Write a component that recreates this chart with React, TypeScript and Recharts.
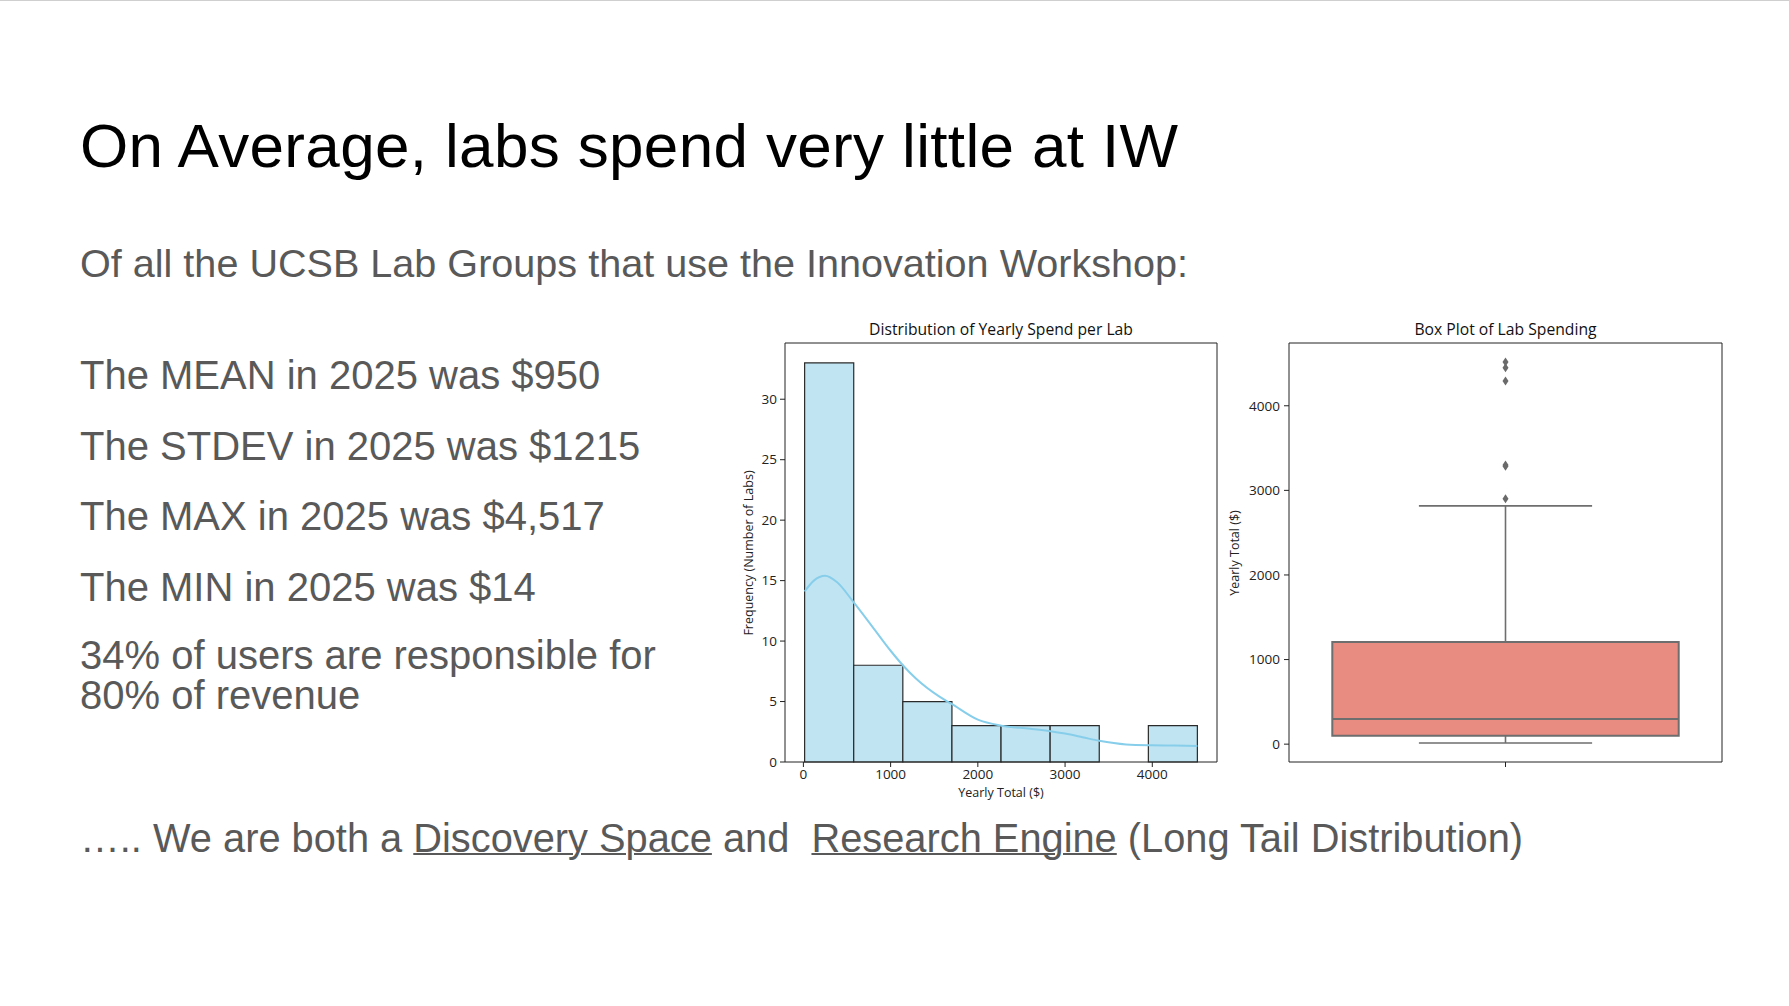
import React from "react";
import {
    ComposedChart,
    XAxis,
    YAxis,
    Line,
    Scatter,
    ReferenceArea,
    ReferenceLine,
} from "recharts";

// slide text
const slideTitle = "On Average, labs spend very little at IW";
const slideSubtitle = "Of all the UCSB Lab Groups that use the Innovation Workshop:";
const statLines = [
    "The MEAN in 2025 was $950",
    "The STDEV in 2025 was $1215",
    "The MAX in 2025 was $4,517",
    "The MIN in 2025 was $14",
];
const paretoLines = ["34% of users are responsible for", "80% of revenue"];

// histogram: bin edges + counts (8 bins, min..max)
const binEdges = [14, 577, 1140, 1703, 2266, 2829, 3392, 3955, 4517];
const binCounts = [33, 8, 5, 3, 3, 3, 0, 3];

// kde curve (scaled to counts)
const kdeX = [14, 120, 250, 380, 577, 790, 1000, 1140, 1290, 1560, 1700, 2000, 2270, 2600, 2830, 3000, 3200, 3392, 3700, 4000, 4250, 4517];
const kdeY = [14.1, 15.0, 15.4, 14.9, 13.2, 11.2, 9.2, 8.0, 6.9, 5.4, 4.8, 3.5, 3.0, 2.75, 2.55, 2.35, 2.05, 1.75, 1.45, 1.38, 1.36, 1.32];

const spendTicks = [0, 1000, 2000, 3000, 4000];
const freqTicks = [0, 5, 10, 15, 20, 25, 30];

// box plot stats
const boxQuartiles = [99, 296, 1207]; // q1, median, q3
const boxWhiskers = [14, 2817];
const boxOutliers = [2900, 3285, 3300, 4292, 4450, 4517];

const SPEND_DOMAIN: [number, number] = [-211, 4742];
const FREQ_DOMAIN: [number, number] = [0, 34.65];
const BOX_X_DOMAIN: [number, number] = [-0.5, 0.5];

const SLIDE_FONT = "'Liberation Sans', Arial, sans-serif";
const CHART_FONT = "'Open Sans', 'Noto Sans', sans-serif";
const TEXT_GREY = "#595959";
const AXIS_INK = "#222";

const tickStyle = { fill: AXIS_INK, fontSize: 13.5, fontFamily: CHART_FONT };

const Diamond = (props: any) => {
    const { cx, cy } = props;
    if (cx == null || cy == null) return null;
    return (
        <polygon
            points={`${cx},${cy - 4.5} ${cx + 3},${cy} ${cx},${cy + 4.5} ${cx - 3},${cy}`}
            fill="#6a6a6a"
        />
    );
};

const chartTitle = (text: string, left: number, width: number) => (
    <div
        style={{
            position: "absolute",
            left,
            top: 320,
            width,
            textAlign: "center",
            fontFamily: CHART_FONT,
            fontSize: 15.7,
            lineHeight: "16px",
            color: "#111",
        }}
    >
        {text}
    </div>
);

const axisLabel = (text: string, cx: number, cy: number, rotate: boolean) => (
    <div
        style={{
            position: "absolute",
            left: cx - 150,
            top: cy - 7,
            width: 300,
            textAlign: "center",
            fontFamily: CHART_FONT,
            fontSize: 12.5,
            lineHeight: "14px",
            color: AXIS_INK,
            transform: rotate ? "rotate(-90deg)" : undefined,
        }}
    >
        {text}
    </div>
);

export default function App() {
    const kdeData = kdeX.map((x, i) => ({ x, y: kdeY[i] }));
    const bins = binCounts.map((count, i) => ({ x0: binEdges[i], x1: binEdges[i + 1], count }));
    const outlierData = boxOutliers.map((y) => ({ x: 0, y }));
    const [q1, med, q3] = boxQuartiles;
    const [wLow, wHigh] = boxWhiskers;

    return (
        <div
            style={{
                position: "absolute",
                left: 0,
                top: 0,
                width: 1789,
                height: 1006,
                background: "#fff",
                overflow: "hidden",
                borderTop: "1px solid #cfcfcf",
                boxSizing: "border-box",
            }}
        >
            {/* slide text */}
            <div style={{ position: "absolute", left: 80, top: 114, fontFamily: SLIDE_FONT, fontSize: 62, lineHeight: "62px", letterSpacing: 0.35, color: "#000", whiteSpace: "nowrap" }}>
                {slideTitle}
            </div>
            <div style={{ position: "absolute", left: 80, top: 242.4, fontFamily: SLIDE_FONT, fontSize: 39.6, lineHeight: "40px", color: TEXT_GREY, whiteSpace: "nowrap" }}>
                {slideSubtitle}
            </div>
            {statLines.map((line, i) => (
                <div
                    key={line}
                    style={{ position: "absolute", left: 80, top: 354 + i * 70.5, fontFamily: SLIDE_FONT, fontSize: 40, lineHeight: "40px", color: TEXT_GREY, whiteSpace: "nowrap" }}
                >
                    {line}
                </div>
            ))}
            <div style={{ position: "absolute", left: 80, top: 634, fontFamily: SLIDE_FONT, fontSize: 40, lineHeight: "40px", color: TEXT_GREY, whiteSpace: "nowrap" }}>
                {paretoLines.map((l) => (
                    <div key={l}>{l}</div>
                ))}
            </div>
            <div style={{ position: "absolute", left: 80, top: 817, fontFamily: SLIDE_FONT, fontSize: 39.8, lineHeight: "40px", color: TEXT_GREY, whiteSpace: "pre" }}>
                {"….. We are both a "}
                <span style={{ textDecoration: "underline", textDecorationThickness: 2 }}>Discovery Space</span>
                {" and  "}
                <span style={{ textDecoration: "underline", textDecorationThickness: 2 }}>Research Engine</span>
                {" (Long Tail Distribution)"}
            </div>

            {/* Histogram with KDE */}
            {chartTitle("Distribution of Yearly Spend per Lab", 785, 432)}
            <div style={{ position: "absolute", left: 730, top: 300 }}>
                <ComposedChart width={520} height={510} data={kdeData} margin={{ top: 42, right: 33, bottom: 19, left: 15 }}>
                    <XAxis
                        type="number"
                        dataKey="x"
                        domain={SPEND_DOMAIN}
                        ticks={spendTicks}
                        interval={0}
                        allowDataOverflow
                        axisLine={false}
                        tickSize={5}
                        tickMargin={2}
                        tickLine={{ stroke: AXIS_INK }}
                        tick={tickStyle}
                        height={30}
                    />
                    <YAxis
                        type="number"
                        domain={FREQ_DOMAIN}
                        ticks={freqTicks}
                        interval={0}
                        allowDataOverflow
                        axisLine={false}
                        tickSize={5}
                        tickMargin={3}
                        tickLine={{ stroke: AXIS_INK }}
                        tick={tickStyle}
                        width={40}
                    />
                    {bins
                        .filter((b) => b.count > 0)
                        .map((b, i) => (
                            <ReferenceArea
                                key={`bin-${i}`}
                                x1={b.x0}
                                x2={b.x1}
                                y1={0}
                                y2={b.count}
                                fill="#c0e4f2"
                                fillOpacity={1}
                                stroke="#2a2a2a"
                                strokeWidth={1.2}
                                ifOverflow="visible"
                            />
                        ))}
                    <Line
                        type="monotone"
                        dataKey="y"
                        stroke="#87ceeb"
                        strokeWidth={2}
                        dot={false}
                        activeDot={false}
                        isAnimationActive={false}
                    />
                    <ReferenceArea
                        x1={SPEND_DOMAIN[0]}
                        x2={SPEND_DOMAIN[1]}
                        y1={FREQ_DOMAIN[0]}
                        y2={FREQ_DOMAIN[1]}
                        fill="none"
                        stroke={AXIS_INK}
                        strokeWidth={1}
                        ifOverflow="visible"
                    />
                </ComposedChart>
            </div>
            {axisLabel("Frequency (Number of Labs)", 749, 551.5, true)}
            {axisLabel("Yearly Total ($)", 1001, 792, false)}

            {/* Box plot */}
            {chartTitle("Box Plot of Lab Spending", 1289, 433)}
            <div style={{ position: "absolute", left: 1220, top: 300 }}>
                <ComposedChart width={540} height={510} margin={{ top: 42, right: 38, bottom: 19, left: 19 }}>
                    <XAxis
                        type="number"
                        dataKey="x"
                        domain={BOX_X_DOMAIN}
                        ticks={[0]}
                        interval={0}
                        allowDataOverflow
                        axisLine={false}
                        tickSize={5}
                        tickLine={{ stroke: AXIS_INK }}
                        tickFormatter={() => ""}
                        height={30}
                    />
                    <YAxis
                        type="number"
                        dataKey="y"
                        domain={SPEND_DOMAIN}
                        ticks={spendTicks}
                        interval={0}
                        allowDataOverflow
                        axisLine={false}
                        tickSize={5}
                        tickMargin={4}
                        tickLine={{ stroke: AXIS_INK }}
                        tick={tickStyle}
                        width={50}
                    />
                    <ReferenceLine segment={[{ x: 0, y: wLow }, { x: 0, y: q1 }]} stroke="#6e6e6e" strokeWidth={1.6} />
                    <ReferenceLine segment={[{ x: 0, y: q3 }, { x: 0, y: wHigh }]} stroke="#6e6e6e" strokeWidth={1.6} />
                    <ReferenceLine segment={[{ x: -0.2, y: wLow }, { x: 0.2, y: wLow }]} stroke="#6e6e6e" strokeWidth={1.6} />
                    <ReferenceLine segment={[{ x: -0.2, y: wHigh }, { x: 0.2, y: wHigh }]} stroke="#6e6e6e" strokeWidth={1.6} />
                    <ReferenceArea
                        x1={-0.4}
                        x2={0.4}
                        y1={q1}
                        y2={q3}
                        fill="#e88b81"
                        fillOpacity={1}
                        stroke="#6e6e6e"
                        strokeWidth={2}
                    />
                    <ReferenceLine segment={[{ x: -0.4, y: med }, { x: 0.4, y: med }]} stroke="#6e6e6e" strokeWidth={2} />
                    <Scatter data={outlierData} dataKey="y" shape={<Diamond />} isAnimationActive={false} />
                    <ReferenceArea
                        x1={BOX_X_DOMAIN[0]}
                        x2={BOX_X_DOMAIN[1]}
                        y1={SPEND_DOMAIN[0]}
                        y2={SPEND_DOMAIN[1]}
                        fill="none"
                        stroke={AXIS_INK}
                        strokeWidth={1}
                        ifOverflow="visible"
                    />
                </ComposedChart>
            </div>
            {axisLabel("Yearly Total ($)", 1234.5, 551.5, true)}
        </div>
    );
}
